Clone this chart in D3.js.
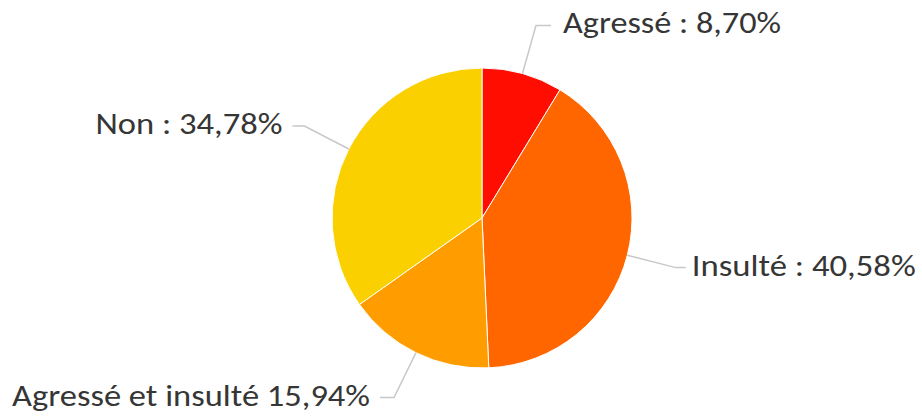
<!DOCTYPE html>
<html><head><meta charset="utf-8">
<script src="https://cdn.jsdelivr.net/npm/d3@7"></script>
<style>html,body{margin:0;padding:0;background:#fff;}</style>
</head><body>
<svg id="c" width="922" height="416"></svg>
<script>
const categories = ["Agressé", "Insulté", "Agressé et insulté", "Non"];
const values = [8.70, 40.58, 15.94, 34.78];
const labels = ["Agressé : 8,70%", "Insulté : 40,58%", "Agressé et insulté 15,94%", "Non : 34,78%"];
const colors = ["#ff0d00", "#ff6600", "#ff9c00", "#fbd000"];

const svg = d3.select("#c");
const cx = 482, cy = 218, R = 150, Relbow = 200;
const g = svg.append("g").attr("transform", `translate(${cx},${cy})`);

const pie = d3.pie().sort(null).value(d => d)(values);
const arc = d3.arc().innerRadius(0).outerRadius(R);

g.selectAll("path.slice").data(pie).enter().append("path")
  .attr("class", "slice")
  .attr("d", arc)
  .attr("fill", (d, i) => colors[i])
  .attr("stroke", "#ffffff").attr("stroke-width", 1);

const pt = (a, r) => [r * Math.sin(a), -r * Math.cos(a)];
const textW = [218, 224, 358, 187];
const hLen = [15, 10, 14, 12];
const gap = [12, 6, 10, 10];

pie.forEach((d, i) => {
  const mid = (d.startAngle + d.endAngle) / 2;
  const p0 = pt(mid, R), p1 = pt(mid, Relbow);
  const right = p1[0] > 0;
  const hx = p1[0] + (right ? hLen[i] : -hLen[i]);
  g.append("polyline")
    .attr("points", [p0, p1, [hx, p1[1]]].map(p => p.join(",")).join(" "))
    .attr("fill", "none").attr("stroke", "#c8c8c8").attr("stroke-width", 1.5);
  g.append("text")
    .attr("x", right ? hx + gap[i] : hx - gap[i])
    .attr("y", p1[1] + 8)
    .attr("text-anchor", right ? "start" : "end")
    .attr("font-family", "Carlito, Lato, 'Open Sans', sans-serif")
    .attr("font-size", 30)
    .attr("fill", "#363636")
    .attr("textLength", textW[i])
    .attr("lengthAdjust", "spacingAndGlyphs")
    .text(labels[i]);
});
</script>
</body></html>
